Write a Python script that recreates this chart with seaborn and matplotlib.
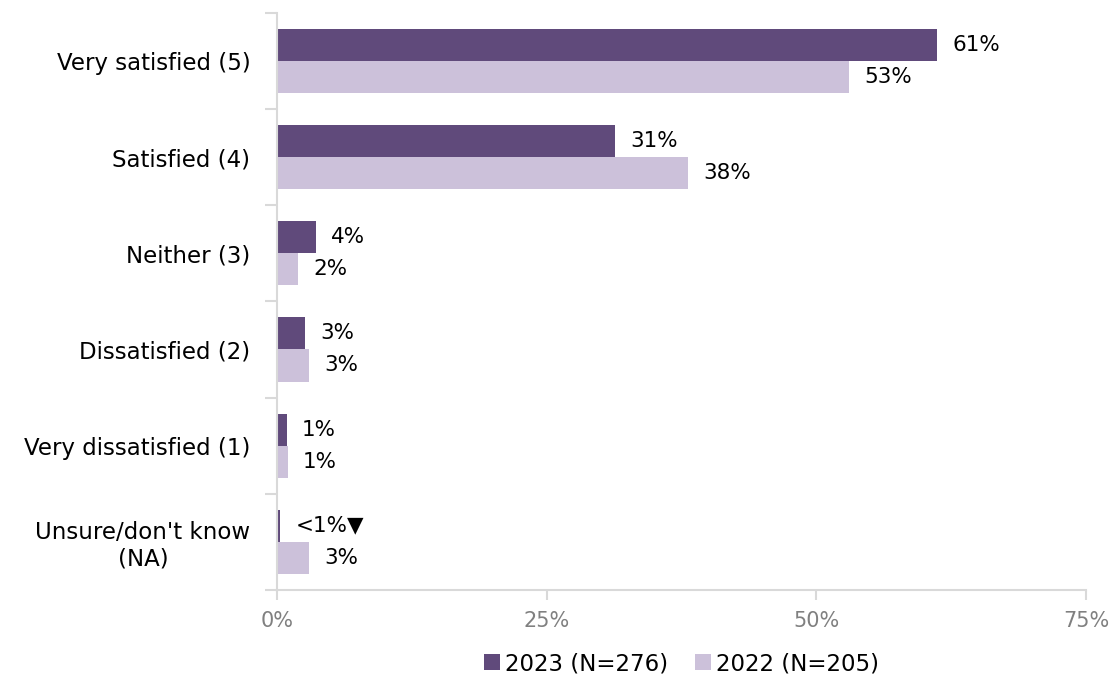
import matplotlib
matplotlib.use("Agg")
import matplotlib.pyplot as plt
import seaborn as sns
import pandas as pd
from matplotlib.ticker import FixedLocator, FuncFormatter

# Satisfaction ratings, share of respondents (%)
categories = ["Very satisfied (5)", "Satisfied (4)", "Neither (3)",
              "Dissatisfied (2)", "Very dissatisfied (1)", "Unsure/don't know\n(NA)"]
series_names = ["2023 (N=276)", "2022 (N=205)"]
values_2023 = [61.2, 31.3, 3.6, 2.6, 0.9, 0.3]
values_2022 = [53.0, 38.1, 2.0, 3.0, 1.0, 3.0]
sig_lower_2023 = [False, False, False, False, False, True]
x_ticks = [0, 25, 50, 75]

colors = ["#604A7B", "#CCC1DA"]
grid_grey = "#D9D9D9"

sns.set_theme(style="white")
plt.rcParams["font.family"] = ["DejaVu Sans"]

df = pd.DataFrame({
    "category": categories * 2,
    "pct": values_2023 + values_2022,
    "year": [series_names[0]] * len(categories) + [series_names[1]] * len(categories),
})

fig = plt.figure(figsize=(11.12, 6.78), dpi=100)
ax = fig.add_axes([0.249, 0.130, 0.9766 - 0.249, 0.981 - 0.130])

sns.barplot(data=df, y="category", x="pct", hue="year", order=categories,
            hue_order=series_names, palette=colors, orient="h",
            width=2 / 3, gap=0, saturation=1, linewidth=0, ax=ax, legend=True)

def fmt(v, low=False):
    if v < 0.5:
        return "<1%\u25BC" if low else "<1%"
    return f"{round(v):d}%"

labels_2023 = [fmt(v, s) for v, s in zip(values_2023, sig_lower_2023)]
labels_2022 = [fmt(v) for v in values_2022]
for cont, labs in zip(ax.containers, [labels_2023, labels_2022]):
    ax.bar_label(cont, labels=labs, padding=11, fontsize=15.5, color="black")

ax.set_xlim(0, 75)
ax.set_ylim(len(categories) - 0.5, -0.5)
ax.xaxis.set_major_locator(FixedLocator(x_ticks))
ax.xaxis.set_major_formatter(FuncFormatter(lambda v, p: f"{v:.0f}%"))
ax.set_xlabel("")
ax.set_ylabel("")

for side in ["top", "right"]:
    ax.spines[side].set_visible(False)
for side in ["left", "bottom"]:
    ax.spines[side].set_color(grid_grey)
    ax.spines[side].set_linewidth(1.5)

ax.tick_params(axis="x", which="major", direction="out", length=7, width=1.5,
               color=grid_grey, labelcolor="#808080", labelsize=15, pad=8,
               bottom=True)
ax.tick_params(axis="y", which="major", length=0, labelsize=16.5,
               labelcolor="black", pad=19)
ax.set_yticks([i - 0.5 for i in range(len(categories) + 1)], minor=True)
ax.tick_params(axis="y", which="minor", direction="out", length=9, width=1.5,
               color=grid_grey, left=True)
for lab in ax.get_yticklabels():
    lab.set_multialignment("center")

handles, labels = ax.get_legend_handles_labels()
leg = ax.legend(handles, labels, loc="center", bbox_to_anchor=(0.5, -0.128),
                ncol=2, frameon=False, fontsize=16.5, handlelength=0.7,
                handleheight=0.7, handletextpad=0.2, columnspacing=1.2)
for t in leg.get_texts():
    t.set_color("black")

fig.savefig("out.png", dpi=100)
